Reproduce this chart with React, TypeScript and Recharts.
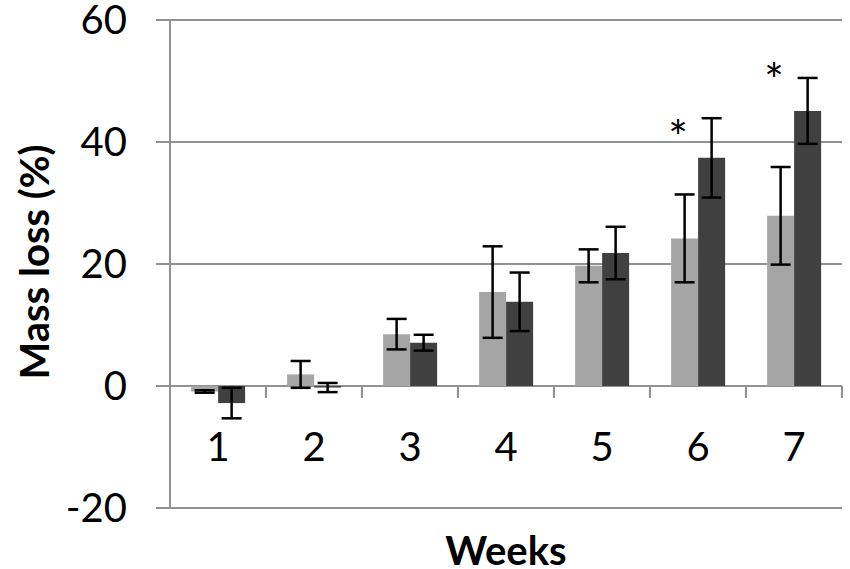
import { ComposedChart, Bar, Scatter, XAxis, YAxis, CartesianGrid, ErrorBar, Label } from "recharts"

const weeks = ["1", "2", "3", "4", "5", "6", "7"]
const lightMean = [-0.9, 1.9, 8.5, 15.4, 19.7, 24.2, 27.9]
const lightErr = [0.2, 2.2, 2.5, 7.5, 2.7, 7.2, 8.0]
const darkMean = [-2.8, -0.25, 7.1, 13.8, 21.8, 37.4, 45.1]
const darkErr = [2.5, 0.75, 1.3, 4.8, 4.3, 6.5, 5.4]
const stars = [null, null, null, null, null, 42.5, 51.8]
const yTicks = [-20, 0, 20, 40, 60]

const data = weeks.map((week, i) => ({
  week,
  light: lightMean[i],
  lightErr: lightErr[i],
  dark: darkMean[i],
  darkErr: darkErr[i],
  star: stars[i],
}))

const W = 850
const H = 569
const M = { top: 20, right: 8, bottom: 0, left: 0 }
const Y_AXIS_W = 170
const X_AXIS_H = 61
const PLOT_H = H - M.top - M.bottom - X_AXIS_H
const BAND = (W - M.left - M.right - Y_AXIS_W) / weeks.length
const ZERO_Y = M.top + (PLOT_H * 60) / 80
const FONT = "Lato, 'Open Sans', sans-serif"
const GRID = "#929292"

function WeekTick(props: any) {
  const { x, payload, index } = props
  const left = x - BAND / 2
  const right = x + BAND / 2
  return (
    <g>
      <line x1={left} x2={left} y1={ZERO_Y} y2={ZERO_Y + 12} stroke={GRID} strokeWidth={2} />
      {index === weeks.length - 1 && (
        <line x1={right} x2={right} y1={ZERO_Y} y2={ZERO_Y + 12} stroke={GRID} strokeWidth={2} />
      )}
      <text x={x} y={ZERO_Y + 75} textAnchor="middle" fontSize={40} fontFamily={FONT} fill="#000">
        {payload.value}
      </text>
    </g>
  )
}

function Star(props: any) {
  const { cx, cy } = props
  if (cy == null || isNaN(cy)) return null
  return (
    <text x={cx - 20} y={cy + 27} textAnchor="middle" fontSize={46} fontFamily={FONT} fill="#000">
      *
    </text>
  )
}

export default function App() {
  return (
    <div style={{ position: "absolute", left: 0, top: 0, background: "#fff" }}>
      <ComposedChart width={W} height={H} data={data} margin={M} barCategoryGap="22%" barGap={0}>
        <CartesianGrid vertical={false} stroke={GRID} strokeWidth={2} />
        <XAxis
          dataKey="week"
          height={X_AXIS_H}
          axisLine={false}
          tickLine={false}
          tickSize={0}
          interval={0}
          tick={<WeekTick />}
        >
          <Label
            value="Weeks"
            position="insideBottom"
            offset={4}
            style={{ fontSize: 40, fontWeight: 700, fontFamily: FONT, fill: "#000" }}
          />
        </XAxis>
        <YAxis
          width={Y_AXIS_W}
          domain={[-20, 60]}
          ticks={yTicks}
          interval={0}
          stroke={GRID}
          axisLine={{ stroke: GRID, strokeWidth: 2 }}
          tickLine={{ stroke: GRID, strokeWidth: 2 }}
          tickSize={14}
          tickMargin={29}
          tick={{ fontSize: 40, fontFamily: FONT, fill: "#000" }}
        >
          <Label
            content={() => (
              <text
                x={49}
                y={262}
                transform="rotate(-90 49 262)"
                textAnchor="middle"
                fontSize={40}
                fontWeight={700}
                fontFamily={FONT}
                fill="#000"
              >
                Mass loss (%)
              </text>
            )}
          />
        </YAxis>
        <Bar dataKey="light" fill="#a5a5a5" isAnimationActive={false}>
          <ErrorBar dataKey="lightErr" width={10} stroke="#000" strokeWidth={2.5} />
        </Bar>
        <Bar dataKey="dark" fill="#404040" isAnimationActive={false}>
          <ErrorBar dataKey="darkErr" width={10} stroke="#000" strokeWidth={2.5} />
        </Bar>
        <Scatter dataKey="star" shape={<Star />} isAnimationActive={false} />
      </ComposedChart>
    </div>
  )
}
